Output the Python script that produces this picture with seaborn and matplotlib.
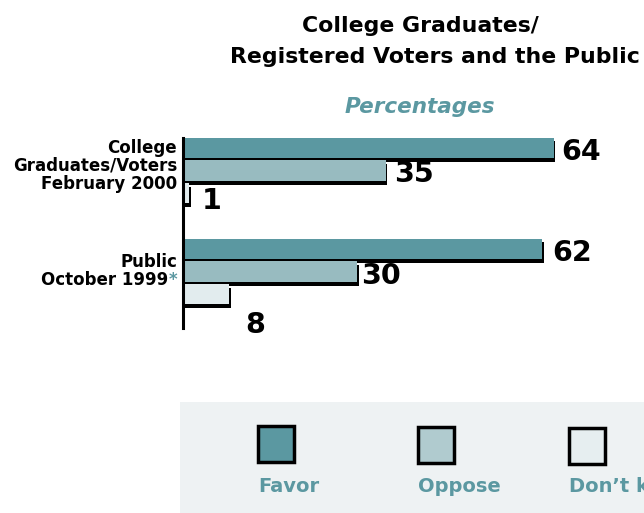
import matplotlib
matplotlib.use("Agg")
import matplotlib.pyplot as plt
import matplotlib.patheffects as pe
from matplotlib.patches import Rectangle
import seaborn as sns
import pandas as pd

# ---- data ----
groups = ["College Graduates/Voters February 2000", "Public October 1999"]
group_lines = [["College", "Graduates/Voters", "February 2000"], ["Public", "October 1999"]]
group_footnote = ["", "*"]
responses = ["Favor", "Oppose", "Don\u2019t know"]
favor = [64, 62]
oppose = [35, 30]
dont_know = [1, 8]

title_lines = ["College Graduates/", "Registered Voters and the Public"]
subtitle = "Percentages"

# ---- style ----
TEAL = "#5B98A1"
colors = ["#5B98A1", "#98BBC0", "#E2ECEE"]
legend_colors = ["#5B98A1", "#B0CBCF", "#E6EEF0"]
FONT = "DejaVu Sans"

sns.set_theme(style="white")
plt.rcParams["font.family"] = [FONT]

W, H = 644, 513
fig = plt.figure(figsize=(W / 100, H / 100), dpi=100)

# axes placement (pixels)
ax_left, ax_top, ax_bottom = 183, 138, 328
ax = fig.add_axes([ax_left / W, 1 - ax_bottom / H, 1 - ax_left / W, (ax_bottom - ax_top) / H])

df = pd.DataFrame({
    "group": groups * 3,
    "response": [responses[0]] * 2 + [responses[1]] * 2 + [responses[2]] * 2,
    "value": favor + oppose + dont_know,
})

sns.barplot(data=df, x="value", y="group", hue="response", order=groups,
            hue_order=responses, palette=colors, orient="h", width=0.67, gap=0.08,
            dodge=True, legend=False, ax=ax, linewidth=0, saturation=1)

for p in ax.patches:
    p.set_path_effects([pe.SimplePatchShadow(offset=(1.3, -2.8), shadow_rgbFace="black", alpha=1),
                        pe.Normal()])

px_per_unit = 5.79
ax.set_xlim(0, (W - ax_left) / px_per_unit)
c0, step = 170.5, 101.0
ax.set_ylim((ax_bottom - c0) / step, (ax_top - c0) / step)
ax.set_xlabel("")
ax.set_ylabel("")
ax.set_xticks([])
ax.set_yticks([])
for s in ["top", "right", "bottom"]:
    ax.spines[s].set_visible(False)
ax.spines["left"].set_color("black")
ax.spines["left"].set_linewidth(2.2)
ax.patch.set_alpha(0)

# value labels
label_offsets = {
    (0, 0): (8, -4), (0, 1): (8, -4), (0, 2): (13, -8),
    (1, 0): (10, -4), (1, 1): (4, -4), (1, 2): (16, -31),
}
values = [favor, oppose, dont_know]
bar_w = 0.67 / 3
for gi in range(len(groups)):
    for ri in range(len(responses)):
        y = gi + (ri - 1) * bar_w
        dx, dy = label_offsets[(gi, ri)]
        ax.annotate(str(values[ri][gi]), xy=(values[ri][gi], y), xytext=(dx, dy),
                    textcoords="offset pixels", ha="left", va="center",
                    fontsize=20.5, fontweight="bold", color="black", annotation_clip=False)

# category labels (manual, right aligned to axis)
label_fs = 12
line_h = 18
pad = 6
group_label_dy = [0, 4]  # extra downward shift of each label block (px)
fig.canvas.draw()
r = fig.canvas.get_renderer()
ast = fig.text(0, 0, "*", fontsize=label_fs, fontweight="bold")
ast_w = ast.get_window_extent(renderer=r).width
ast.remove()

for gi, lines in enumerate(group_lines):
    n = len(lines)
    first_base = 0.5 - (n - 1) / 2 * line_h + group_label_dy[gi]
    for li, line in enumerate(lines):
        yoff = -(first_base + li * line_h)
        is_last = li == n - 1
        fn = group_footnote[gi] if is_last else ""
        xoff = -pad - (ast_w if fn else 0)
        ax.annotate(line, xy=(0, gi), xycoords=("axes fraction", "data"),
                    xytext=(xoff, yoff), textcoords="offset pixels",
                    ha="right", va="baseline", fontsize=label_fs, fontweight="bold",
                    color="black", annotation_clip=False)
        if fn:
            ax.annotate(fn, xy=(0, gi), xycoords=("axes fraction", "data"),
                        xytext=(-pad, yoff), textcoords="offset pixels",
                        ha="right", va="baseline", fontsize=label_fs, fontweight="bold",
                        color=TEAL, annotation_clip=False)

# titles
fig.text(420 / W, 1 - 32 / H, title_lines[0], ha="center", va="baseline",
         fontsize=15.8, fontweight="bold", color="black")
fig.text(435 / W, 1 - 63 / H, title_lines[1], ha="center", va="baseline",
         fontsize=15.8, fontweight="bold", color="black")
fig.text(420 / W, 1 - 113 / H, subtitle, ha="center", va="baseline",
         fontsize=15.5, fontweight="bold", fontstyle="italic", color=TEAL)

# legend panel
fig.patches.append(Rectangle((180 / W, 0), (W - 180) / W, (513 - 402) / H,
                             transform=fig.transFigure, facecolor="#EEF2F3",
                             edgecolor="none", zorder=0))
sq_x = [258, 418, 569]
sq_y_top = [426, 427, 428]
sq = 36
for i, name in enumerate(responses):
    fig.patches.append(Rectangle((sq_x[i] / W, 1 - (sq_y_top[i] + sq) / H), sq / W, sq / H,
                                 transform=fig.transFigure, facecolor=legend_colors[i],
                                 edgecolor="black", linewidth=2.5, zorder=1))
    fig.text(sq_x[i] / W, 1 - 492 / H, name, ha="left", va="baseline",
             fontsize=14, fontweight="bold", color=TEAL)

fig.savefig("out.png", dpi=100)
